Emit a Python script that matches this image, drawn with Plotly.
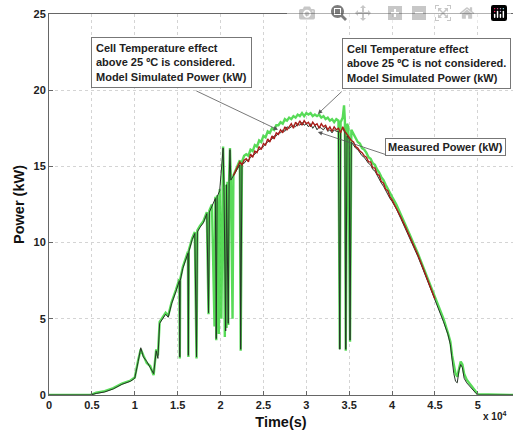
import plotly.graph_objects as go

# time in units of 10^4 s, power in kW
meas_t = [0, 0.48, 0.55, 0.65, 0.75, 0.85, 0.95, 1.0, 1.04, 1.07, 1.10, 1.14, 1.18, 1.22, 1.25, 1.27, 1.29, 1.32, 1.36, 1.39,
          1.43, 1.48, 1.52, 1.525, 1.53, 1.56, 1.60, 1.62, 1.625, 1.63, 1.67, 1.70, 1.72, 1.73, 1.76, 1.80, 1.84, 1.86, 1.87,
          1.90, 1.94, 1.95, 1.96, 1.99, 2.03, 2.04, 2.06, 2.07, 2.09, 2.10, 2.11, 2.12, 2.16,
          2.200, 2.225, 2.235, 2.250, 2.275, 2.300, 2.325, 2.350, 2.375, 2.400, 2.425, 2.450, 2.475, 2.500, 2.525, 2.550, 2.575,
          2.600, 2.625, 2.650, 2.675, 2.700, 2.725, 2.750, 2.775, 2.800, 2.825, 2.850, 2.875, 2.900, 2.925, 2.950, 2.975,
          3.000, 3.025, 3.050, 3.075, 3.100, 3.125, 3.150, 3.175, 3.200, 3.225, 3.250, 3.275, 3.300, 3.325, 3.350, 3.375,
          3.390, 3.400, 3.425, 3.450, 3.460, 3.475, 3.500, 3.510, 3.525, 3.550, 3.575, 3.600, 3.625, 3.650, 3.675, 3.700,
          3.725, 3.750, 3.775, 3.800, 3.825, 3.850, 3.875, 3.900, 3.925, 3.950, 3.975, 4.000,
          4.05, 4.10, 4.15, 4.20, 4.25, 4.30, 4.35, 4.40, 4.45, 4.50, 4.55, 4.60, 4.65, 4.68, 4.70, 4.72, 4.74, 4.76, 4.78,
          4.80, 4.82, 4.84, 4.87, 4.90, 4.94, 4.98, 5.00, 5.41]
meas_p = [0, 0, 0.1, 0.2, 0.4, 0.7, 0.9, 1.1, 2.2, 3.1, 2.5, 2.2, 1.8, 1.4, 2.9, 2.4, 4.7, 5.0, 5.3, 5.1,
          6.0, 6.8, 7.5, 2.5, 7.5, 8.3, 9.0, 9.3, 2.6, 9.4, 10.2, 10.6, 2.5, 10.7, 11.0, 11.3, 11.9, 5.4, 12.0,
          12.4, 12.9, 3.7, 13.0, 13.4, 16.2, 13.6, 4.2, 13.8, 4.7, 14.0, 16.1, 14.1, 14.5,
          14.9, 15.1, 3.0, 15.2, 15.2, 15.4, 15.4, 15.6, 15.7, 15.8, 16.0, 16.1, 16.2, 16.3, 16.5, 16.6, 16.7,
          16.8, 17.0, 17.0, 17.2, 17.2, 17.4, 17.3, 17.6, 17.5, 17.6, 17.7, 17.6, 17.8, 17.7, 17.9, 17.7,
          17.8, 17.6, 17.8, 17.5, 17.7, 17.4, 17.6, 17.5, 17.4, 17.6, 17.3, 17.4, 17.2, 17.4, 17.3, 17.3,
          3.0, 17.3, 17.5, 17.2, 3.0, 17.0, 16.8, 3.6, 16.6, 16.4, 16.2, 16.1, 15.9, 15.7, 15.6, 15.4,
          15.2, 15.1, 14.8, 14.7, 14.4, 14.2, 13.9, 13.7, 13.4, 13.2, 12.9, 12.7,
          12.2, 11.6, 11.0, 10.4, 9.8, 9.1, 8.4, 7.7, 7.0, 6.2, 5.5, 4.8, 4.0, 3.3, 2.3, 1.4, 0.9, 0.8, 1.6,
          2.0, 1.8, 1.1, 0.8, 0.6, 0.3, 0.1, 0, 0]

green_t = [0, 0.48, 0.55, 0.65, 0.75, 0.85, 0.95, 1.0, 1.04, 1.07, 1.10, 1.14, 1.18, 1.22, 1.25, 1.27, 1.29, 1.32, 1.36, 1.39,
           1.43, 1.48, 1.52, 1.525, 1.53, 1.56, 1.60, 1.62, 1.625, 1.63, 1.67, 1.70, 1.72, 1.73, 1.76, 1.80, 1.84, 1.86, 1.87,
           1.90, 1.93, 1.94, 1.95, 1.96, 1.98, 1.99, 2.01, 2.03, 2.04, 2.05, 2.06, 2.07, 2.08, 2.09, 2.10, 2.11, 2.12, 2.14,
           2.15, 2.18,
           2.200, 2.225, 2.235, 2.250, 2.275, 2.300, 2.325, 2.350, 2.375, 2.400, 2.425, 2.450, 2.475, 2.500, 2.525, 2.550, 2.575,
           2.600, 2.625, 2.650, 2.675, 2.700, 2.725, 2.750, 2.775, 2.800, 2.825, 2.850, 2.875, 2.900, 2.925, 2.950, 2.975,
           3.000, 3.025, 3.050, 3.075, 3.100, 3.125, 3.150, 3.175, 3.200, 3.225, 3.250, 3.275, 3.300, 3.325, 3.350, 3.375,
           3.390, 3.400, 3.425, 3.440, 3.450, 3.460, 3.475, 3.490, 3.510, 3.525, 3.550, 3.575, 3.600, 3.625, 3.650, 3.675,
           3.700, 3.725, 3.750, 3.775, 3.800, 3.825, 3.850, 3.875, 3.900, 3.925, 3.950, 3.975, 4.000,
           4.05, 4.10, 4.20, 4.30, 4.40, 4.50, 4.60, 4.65, 4.68, 4.70, 4.72, 4.74, 4.76, 4.78, 4.80, 4.82, 4.84, 4.87,
           4.90, 4.94, 4.98, 5.00, 5.41]
green_p = [0, 0, 0.15, 0.25, 0.45, 0.75, 0.95, 1.15, 2.3, 3.0, 2.6, 2.1, 1.9, 1.3, 3.0, 2.6, 4.8, 5.1, 5.4, 5.2,
           6.1, 6.9, 7.6, 2.4, 7.6, 8.4, 9.1, 9.4, 2.5, 9.5, 10.3, 10.7, 2.4, 10.8, 11.1, 11.4, 12.0, 5.3, 12.1,
           12.5, 4.5, 13.0, 3.6, 13.1, 4.0, 13.5, 5.0, 16.3, 13.7, 3.8, 13.8, 4.4, 14.0, 4.6, 14.1, 16.2, 14.2, 5.0,
           14.4, 14.8,
           15.1, 15.4, 2.9, 15.3, 15.7, 15.8, 15.7, 16.1, 16.0, 16.4, 16.3, 16.7, 16.6, 17.0, 16.9, 17.3, 17.2,
           17.5, 17.4, 17.7, 17.7, 17.9, 17.8, 18.1, 18.0, 18.2, 18.1, 18.3, 18.2, 18.4, 18.3, 18.5, 18.3,
           18.5, 18.4, 18.5, 18.3, 18.4, 18.3, 18.4, 18.2, 18.3, 18.1, 18.2, 18.0, 18.1, 17.9, 18.1, 18.0,
           3.0, 17.9, 18.2, 19.0, 18.0, 2.9, 17.8, 17.6, 3.5, 17.4, 17.1, 16.9, 16.6, 16.5, 16.2, 16.1,
           15.9, 15.6, 15.5, 15.2, 15.1, 14.8, 14.6, 14.3, 14.1, 13.8, 13.5, 13.3, 13.0,
           12.5, 11.9, 10.6, 9.3, 7.9, 6.4, 5.0, 4.1, 3.5, 2.6, 1.9, 1.4, 1.2, 1.8, 2.2, 2.0, 1.4, 1.0,
           0.8, 0.5, 0.2, 0.05, 0]

red_t = [2.150, 2.175,
         2.200, 2.225, 2.250, 2.275, 2.300, 2.325, 2.350, 2.375, 2.400, 2.425, 2.450, 2.475, 2.500, 2.525, 2.550, 2.575,
         2.600, 2.625, 2.650, 2.675, 2.700, 2.725, 2.750, 2.775, 2.800, 2.825, 2.850, 2.875, 2.900, 2.925, 2.950, 2.975,
         3.000, 3.025, 3.050, 3.075, 3.100, 3.125, 3.150, 3.175, 3.200, 3.225, 3.250, 3.275, 3.300, 3.325, 3.350, 3.375,
         3.400, 3.425, 3.450, 3.475, 3.500, 3.525, 3.550, 3.575, 3.600, 3.625, 3.650, 3.675, 3.700, 3.725, 3.750, 3.775,
         3.800, 3.825, 3.850, 3.875, 3.900, 3.925, 3.950, 3.975, 4.000,
         4.05, 4.10, 4.15, 4.20, 4.25, 4.30, 4.35, 4.40, 4.45, 4.50]
red_p = [14.4, 14.7,
         15.0, 15.3, 15.1, 15.4, 15.5, 15.3, 15.8, 15.6, 16.0, 15.9, 16.3, 16.1, 16.5, 16.4, 16.8, 16.6,
         17.0, 16.8, 17.2, 17.1, 17.4, 17.2, 17.6, 17.4, 17.6, 17.8, 17.5, 17.9, 17.7, 18.0, 17.7, 18.0,
         17.8, 17.9, 17.6, 17.9, 17.7, 17.8, 17.5, 17.8, 17.6, 17.7, 17.4, 17.6, 17.3, 17.6, 17.4, 17.5,
         17.2, 17.6, 17.3, 17.1, 16.9, 16.7, 16.6, 16.3, 16.2, 16.0, 15.9, 15.7, 15.6, 15.3, 15.3, 14.9,
         14.9, 14.5, 14.4, 14.0, 13.9, 13.5, 13.4, 13.0, 12.8,
         12.3, 11.7, 11.1, 10.5, 9.9, 9.2, 8.5, 7.8, 7.1, 6.3]

x_ticks = [0, 0.5, 1, 1.5, 2, 2.5, 3, 3.5, 4, 4.5, 5]
x_tick_labels = ["0", "0.5", "1", "1.5", "2", "2.5", "3", "3.5", "4", "4.5", "5"]
y_ticks = [0, 5, 10, 15, 20, 25]

FONT = "Liberation Sans, Arial, sans-serif"

fig = go.Figure()
fig.add_trace(go.Scatter(x=green_t, y=green_p, mode="lines",
                         line=dict(color="rgba(70,215,70,0.9)", width=2.4), name="not considered"))
fig.add_trace(go.Scatter(x=meas_t, y=meas_p, mode="lines",
                         line=dict(color="#263326", width=1.0), name="measured"))
fig.add_trace(go.Scatter(x=red_t, y=red_p, mode="lines",
                         line=dict(color="#a81c18", width=1.4), name="considered"))

box_font = dict(family=FONT, size=11, color="#222", weight="bold")
fig.add_annotation(x=0.49, y=23.5, xref="x", yref="y", xanchor="left", yanchor="top", showarrow=False,
                   align="left", text="Cell Temperature effect<br>above 25 ºC is considered.<br>Model Simulated Power (kW)",
                   font=box_font, bgcolor="white", bordercolor="#777", borderwidth=1, borderpad=4)
fig.add_annotation(x=3.415, y=23.4, xref="x", yref="y", xanchor="left", yanchor="top", showarrow=False,
                   align="left", text="Cell Temperature effect<br>above 25 ºC is not considered.<br>Model Simulated Power (kW)",
                   font=box_font, bgcolor="white", bordercolor="#777", borderwidth=1, borderpad=4)
fig.add_annotation(x=3.92, y=16.86, xref="x", yref="y", xanchor="left", yanchor="top", showarrow=False,
                   align="left", text="Measured Power (kW)",
                   font=dict(family=FONT, size=11, color="#222", weight="bold"),
                   bgcolor="white", bordercolor="#777", borderwidth=1, borderpad=2)

arrows = [((1.70, 20.0), (2.67, 17.4)), ((3.43, 20.0), (3.135, 18.44)), ((3.94, 15.75), (3.135, 17.26))]
for (tx, ty), (hx, hy) in arrows:
    fig.add_annotation(x=hx, y=hy, ax=tx, ay=ty, xref="x", yref="y", axref="x", ayref="y", text="",
                       showarrow=True, arrowhead=2, arrowsize=1.1, arrowwidth=0.8, arrowcolor="#555")

fig.add_annotation(x=5.2, y=0, xref="x", yref="paper", xanchor="center", yanchor="top", yshift=-13,
                   showarrow=False, text="x 10<sup>4</sup>", font=dict(family=FONT, size=10, color="#222", weight="bold"))

axis_common = dict(showline=True, linecolor="#666", linewidth=1, mirror=True, ticks="inside", ticklen=4,
                   tickcolor="#666", showgrid=True, gridcolor="#d4d4d4", griddash="dot", gridwidth=1,
                   zeroline=False, automargin=False, ticklabeloverflow="allow",
                   tickfont=dict(family=FONT, size=11, color="#222", weight="bold"))

fig.update_layout(
    width=513, height=432, margin=dict(l=49, r=0, t=14, b=37),
    paper_bgcolor="white", plot_bgcolor="white", showlegend=False,
    xaxis=dict(range=[0, 5.41], tickvals=x_ticks, ticktext=x_tick_labels,
               title=dict(text="Time(s)", font=dict(family=FONT, size=14.5, color="#111", weight="bold"), standoff=6),
               **axis_common),
    yaxis=dict(range=[0, 25], tickvals=y_ticks,
               title=dict(text="Power (kW)", font=dict(family=FONT, size=14.5, color="#111", weight="bold"), standoff=5),
               **axis_common),
)

# remove the browser's default 8px body margin so the 513x432 figure fills the window exactly
fig.write_html("out.html",
               post_script="document.body.style.margin='0';document.body.style.overflow='hidden';")
